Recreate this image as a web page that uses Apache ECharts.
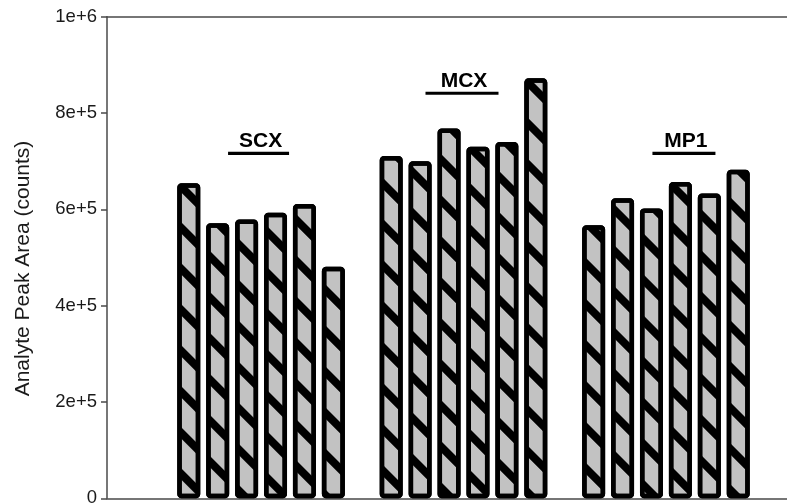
<!DOCTYPE html>
<html>
<head>
<meta charset="utf-8">
<script src="https://cdn.jsdelivr.net/npm/echarts@6/dist/echarts.min.js"></script>
<style>
  html, body { margin: 0; padding: 0; background: #fff; }
  #chart { width: 787px; height: 504px; }
</style>
</head>
<body>
<div id="chart"></div>
<script>
// Analyte peak area for six replicate extractions on each sorbent
const groups = ['SCX', 'MCX', 'MP1'];
const scx = [654000, 571000, 579000, 593000, 611000, 481000];
const mcx = [711000, 700000, 768000, 730000, 740000, 872000];
const mp1 = [567000, 623000, 602000, 657000, 633000, 682000];
const yTicks = [0, 200000, 400000, 600000, 800000, 1000000];
const yTitle = 'Analyte Peak Area (counts)';

// Category slots: six runs per sorbent, one empty slot between sorbents
const seriesByGroup = [scx, mcx, mp1];
const categories = [];
const values = [];
seriesByGroup.forEach((vals, g) => {
  if (g > 0) { categories.push(' '.repeat(g)); values.push(null); }
  vals.forEach((v, i) => { categories.push(groups[g] + '-' + (i + 1)); values.push(v); });
});

// Group caption styling (offset from group centre, underline width, height in data units)
const captionLayout = [
  { dx: -2.5, width: 61, level: 716000 },
  { dx: -1.5, width: 73, level: 841000 },
  { dx: 18, width: 63, level: 716000 }
];

const FONT = '"Liberation Sans", Arial, Helvetica, sans-serif';
const AXIS = '#4a4a4a';
const TOP = 16.7, BOTTOM = 504 - 498.3;

const chart = echarts.init(document.getElementById('chart'), null, { renderer: 'canvas' });

chart.setOption({
  animation: false,
  backgroundColor: '#fff',
  grid: [
    { left: 107, right: -3, top: TOP, bottom: BOTTOM, containLabel: false, outerBoundsMode: 'none' },
    { left: 174.3, width: 578.4, top: TOP, bottom: BOTTOM, containLabel: false, outerBoundsMode: 'none' }
  ],
  xAxis: [
    { gridIndex: 0, type: 'value', min: 0, max: 1, position: 'bottom',
      axisLine: { show: true, lineStyle: { color: AXIS, width: 1.5 } },
      axisTick: { show: false }, axisLabel: { show: false }, splitLine: { show: false } },
    { gridIndex: 0, type: 'value', min: 0, max: 1, position: 'top',
      axisLine: { show: true, lineStyle: { color: AXIS, width: 1.5 } },
      axisTick: { show: false }, axisLabel: { show: false }, splitLine: { show: false } },
    { gridIndex: 1, type: 'category', data: categories, show: false }
  ],
  yAxis: [
    { gridIndex: 0, type: 'value', min: yTicks[0], max: yTicks[yTicks.length - 1],
      interval: yTicks[1] - yTicks[0],
      axisLine: { show: true, lineStyle: { color: AXIS, width: 1.5 } },
      axisTick: { show: true, inside: false, length: 6, lineStyle: { color: AXIS, width: 1.5 } },
      axisLabel: { margin: 10, color: '#1a1a1a', fontFamily: FONT, fontSize: 18.5,
        formatter: v => v === 0 ? '0' : v.toExponential() },
      splitLine: { show: false },
      name: yTitle, nameLocation: 'middle', nameGap: 73, nameRotate: 90,
      nameTextStyle: { color: '#1a1a1a', fontFamily: FONT, fontSize: 21, padding: [0, 22, 0, 0] } },
    { gridIndex: 1, type: 'value', min: yTicks[0], max: yTicks[yTicks.length - 1], show: false }
  ],
  series: [{
    type: 'bar',
    xAxisIndex: 2,
    yAxisIndex: 1,
    data: values,
    barWidth: 23,
    z: 5,
    itemStyle: {
      color: '#c2c2c2',
      borderColor: '#000',
      borderWidth: 4.5,
      borderRadius: 2,
      decal: {
        symbol: 'rect',
        symbolSize: 1,
        dashArrayX: [1, 0],
        dashArrayY: [8, 21],
        rotation: Math.PI / 4,
        color: '#000'
      }
    }
  }]
});

// Captions centred over each sorbent's bars, positioned through the bar axes
const graphics = [];
seriesByGroup.forEach((vals, g) => {
  const first = chart.convertToPixel({ xAxisIndex: 2, yAxisIndex: 1 }, [groups[g] + '-1', 0]);
  const last = chart.convertToPixel({ xAxisIndex: 2, yAxisIndex: 1 }, [groups[g] + '-' + vals.length, 0]);
  const lay = captionLayout[g];
  const cx = (first[0] + last[0]) / 2 + lay.dx;
  const ly = chart.convertToPixel({ yAxisIndex: 1 }, lay.level);
  graphics.push({
    type: 'line', z: 10,
    shape: { x1: cx - lay.width / 2, y1: ly, x2: cx + lay.width / 2, y2: ly },
    style: { stroke: '#000', lineWidth: 3.2 }
  });
  graphics.push({
    type: 'text', z: 10, x: cx + 2, y: ly - 12,
    style: { text: groups[g], fill: '#000', font: 'bold 21px ' + FONT,
      textAlign: 'center', textVerticalAlign: 'middle' }
  });
});
chart.setOption({ graphic: graphics });
</script>
</body>
</html>
